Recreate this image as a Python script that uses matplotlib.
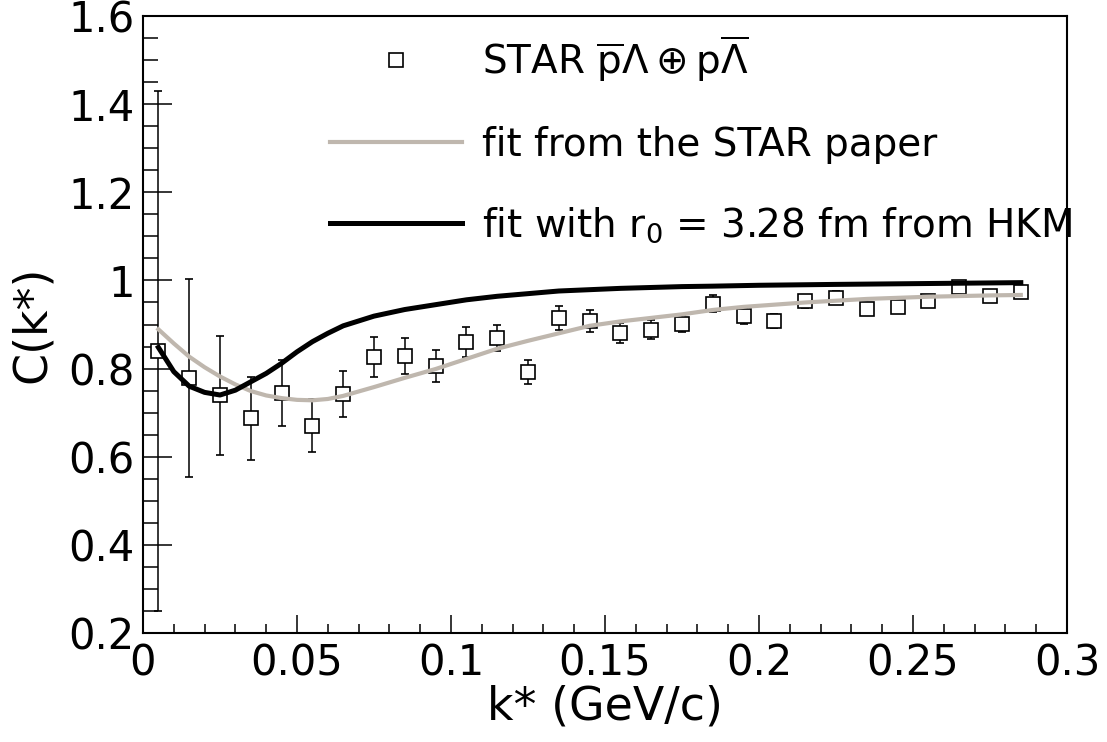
import matplotlib
matplotlib.use("Agg")
import matplotlib.pyplot as plt
from matplotlib.ticker import MultipleLocator, FixedLocator
from matplotlib.lines import Line2D

plt.rcParams['font.family'] = ['DejaVu Sans']
plt.rcParams['mathtext.fontset'] = 'dejavusans'

# ---- data ----
kstar = [0.005, 0.015, 0.025, 0.035, 0.045, 0.055, 0.065, 0.075, 0.085, 0.095,
         0.105, 0.115, 0.125, 0.135, 0.145, 0.155, 0.165, 0.175, 0.185, 0.195,
         0.205, 0.215, 0.225, 0.235, 0.245, 0.255, 0.265, 0.275, 0.285]
corr = [0.840, 0.778, 0.739, 0.687, 0.745, 0.670, 0.743, 0.826, 0.829, 0.806,
        0.860, 0.869, 0.792, 0.915, 0.909, 0.880, 0.888, 0.902, 0.947, 0.919,
        0.907, 0.953, 0.961, 0.936, 0.939, 0.953, 0.984, 0.965, 0.973]
corr_err = [0.590, 0.225, 0.135, 0.095, 0.075, 0.060, 0.052, 0.045, 0.041, 0.037,
            0.034, 0.030, 0.027, 0.027, 0.025, 0.023, 0.022, 0.020, 0.019, 0.018,
            0.016, 0.015, 0.015, 0.013, 0.013, 0.012, 0.012, 0.012, 0.012]

star_fit_k = [0.005, 0.010, 0.015, 0.020, 0.025, 0.030, 0.035, 0.040, 0.045, 0.050,
              0.055, 0.060, 0.065, 0.075, 0.085, 0.095, 0.105, 0.115, 0.125, 0.135,
              0.145, 0.155, 0.165, 0.175, 0.185, 0.195, 0.215, 0.235, 0.255, 0.275, 0.285]
star_fit_c = [0.889, 0.857, 0.827, 0.803, 0.782, 0.764, 0.749, 0.739, 0.733, 0.729,
              0.728, 0.731, 0.738, 0.758, 0.779, 0.799, 0.822, 0.845, 0.863, 0.880,
              0.897, 0.907, 0.915, 0.923, 0.933, 0.940, 0.950, 0.958, 0.963, 0.966, 0.967]

hkm_fit_k = [0.005, 0.010, 0.015, 0.020, 0.025, 0.030, 0.035, 0.040, 0.045, 0.050,
             0.055, 0.060, 0.065, 0.075, 0.085, 0.095, 0.105, 0.115, 0.125, 0.135,
             0.145, 0.155, 0.165, 0.175, 0.185, 0.200, 0.225, 0.255, 0.285]
hkm_fit_c = [0.848, 0.793, 0.760, 0.746, 0.740, 0.751, 0.770, 0.789, 0.812, 0.838,
             0.861, 0.880, 0.897, 0.919, 0.934, 0.945, 0.956, 0.964, 0.970, 0.976,
             0.979, 0.982, 0.984, 0.986, 0.987, 0.989, 0.991, 0.993, 0.995]

x_ticks = [0, 0.05, 0.1, 0.15, 0.2, 0.25, 0.3]
x_ticklabels = ["0", "0.05", "0.1", "0.15", "0.2", "0.25", "0.3"]
y_ticks = [0.2, 0.4, 0.6, 0.8, 1.0, 1.2, 1.4, 1.6]
y_ticklabels = ["0.2", "0.4", "0.6", "0.8", "1", "1.2", "1.4", "1.6"]

label_data = r"STAR $\overline{\mathrm{p}}\Lambda \oplus \mathrm{p}\overline{\Lambda}$"
label_star = "fit from the STAR paper"
label_hkm = r"fit with r$_0$ = 3.28 fm from HKM"

GRAY = '#bfb7ae'

# ---- figure ----
W, H = 1107, 742
fig = plt.figure(figsize=(W / 100, H / 100), dpi=100)
L, R, B, T = 143, 1067, 633, 16
ax = fig.add_axes([L / W, 1 - B / H, (R - L) / W, (B - T) / H])

ax.errorbar(kstar, corr, yerr=corr_err, fmt='s', color='black', ms=10,
            mfc='white', mec='black', mew=1.2, elinewidth=1.1, capsize=3,
            capthick=1.1, zorder=3)
ax.plot(star_fit_k, star_fit_c, color=GRAY, lw=3.0, zorder=4,
        solid_joinstyle='round')
ax.plot(hkm_fit_k, hkm_fit_c, color='black', lw=3.6, zorder=5,
        solid_joinstyle='round')

ax.set_xlim(0, 0.3)
ax.set_ylim(0.2, 1.6)
ax.xaxis.set_major_locator(FixedLocator(x_ticks))
ax.set_xticklabels(x_ticklabels)
ax.yaxis.set_major_locator(FixedLocator(y_ticks))
ax.set_yticklabels(y_ticklabels)
ax.xaxis.set_minor_locator(MultipleLocator(0.01))
ax.yaxis.set_minor_locator(MultipleLocator(0.05))

ax.tick_params(axis='x', which='major', direction='in', length=13, width=1.1,
               labelsize=30, pad=7, top=False)
ax.tick_params(axis='x', which='minor', direction='in', length=6.5, width=1.1,
               top=False)
ax.tick_params(axis='y', which='major', direction='in', length=21, width=1.1,
               labelsize=30, pad=6, right=False)
ax.tick_params(axis='y', which='minor', direction='in', length=10.5, width=1.1,
               right=False)
for sp in ax.spines.values():
    sp.set_linewidth(1.5)

ax.set_xlabel("k* (GeV/c)", fontsize=33)
ax.set_ylabel("C(k*)", fontsize=33)
ax.xaxis.set_label_coords(0.5, -0.083)
ax.yaxis.set_label_coords(-0.095, 0.5)

handles = [
    Line2D([], [], ls='none', marker='s', ms=10, mfc='white', mec='black', mew=1.2),
    Line2D([], [], color=GRAY, lw=3.0),
    Line2D([], [], color='black', lw=3.6),
]
leg = fig.legend(handles, [label_data, label_star, label_hkm],
                 loc='upper left', bbox_to_anchor=(330 / W, 1 - 33 / H),
                 frameon=False, fontsize=28, handlelength=3.4,
                 handletextpad=0.5, labelspacing=1.08, borderpad=0,
                 borderaxespad=0)

fig.savefig("out.png", dpi=100)
